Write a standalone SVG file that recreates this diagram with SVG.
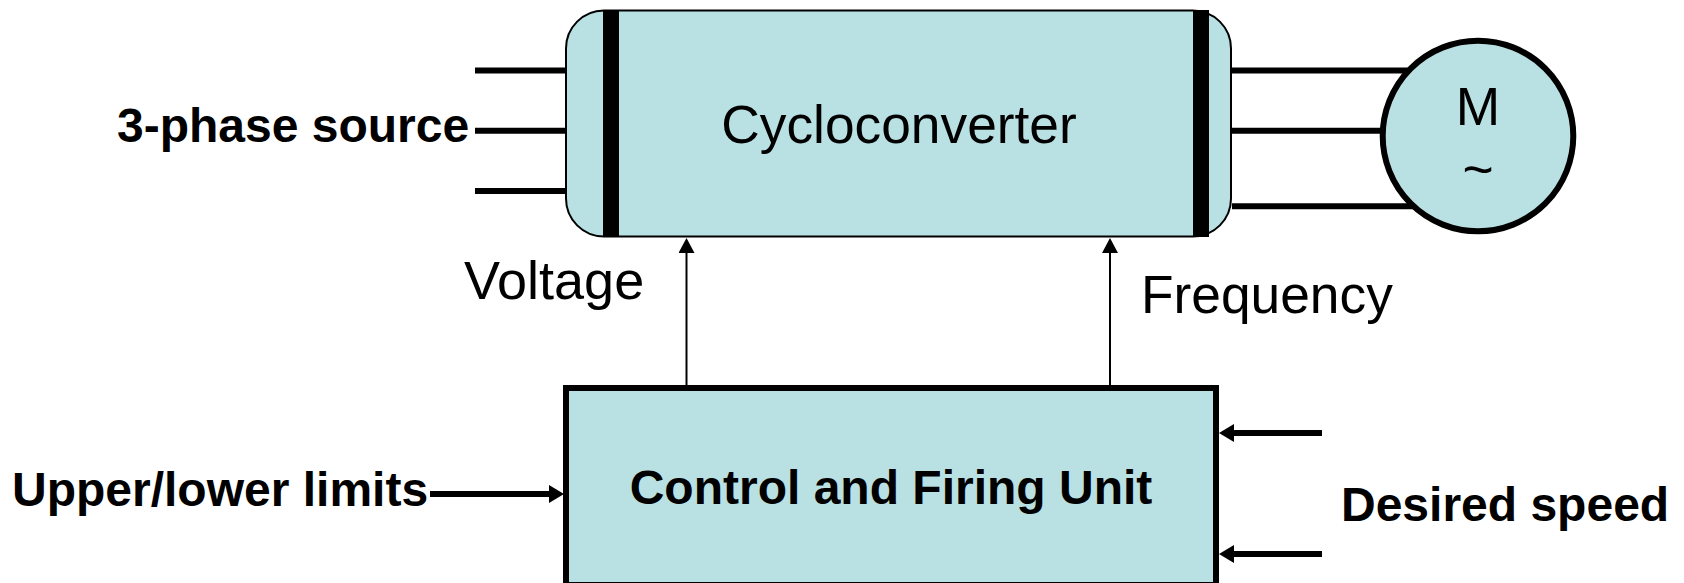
<svg xmlns="http://www.w3.org/2000/svg" width="1684" height="583" viewBox="0 0 1684 583">
<style>
text{font-family:"Liberation Sans",Arial,sans-serif;fill:#000}
.r{font-size:53.300px}
.v{font-size:54px}
.b{font-size:48px;font-weight:700}
.fill{fill:#b9e0e3}
.w{stroke:#000;stroke-width:6;fill:none}
.t{stroke:#000;stroke-width:2;fill:none}
</style>
<defs>
<marker id="hs" markerUnits="userSpaceOnUse" markerWidth="16" markerHeight="16" refX="1" refY="8" orient="auto"><path d="M0 0L15 8L0 16z" fill="#000"/></marker>
<marker id="hb" markerUnits="userSpaceOnUse" markerWidth="16" markerHeight="18" refX="1" refY="9" orient="auto"><path d="M0 0L15 9L0 18z" fill="#000"/></marker>
</defs>
<g id="cycloconverter">
<rect class="fill" x="566" y="10.500" width="665" height="226" rx="38" ry="38" stroke="#000" stroke-width="2"/>
<rect x="603" y="10" width="16" height="227" fill="#000"/>
<rect x="1193" y="10" width="16" height="227" fill="#000"/>
<text class="r" x="899" y="143" text-anchor="middle">Cycloconverter</text>
</g>
<g id="control-unit">
<rect class="fill" x="566" y="388" width="650" height="197" stroke="#000" stroke-width="6"/>
<text class="b" x="891" y="504" text-anchor="middle">Control and Firing Unit</text>
</g>
<g id="connectors">
<path class="w" d="M475 70.500H566M475 130.700H566M475 191H566M1232 70.500H1420M1232 130.700H1390M1232 206.300H1420"/>
<path class="t" marker-end="url(#hs)" d="M686.500 386V252"/>
<path class="t" marker-end="url(#hs)" d="M1110 386V252"/>
<path class="w" marker-end="url(#hb)" d="M430 494H550"/>
<path class="w" marker-end="url(#hb)" d="M1322 433H1233"/>
<path class="w" marker-end="url(#hb)" d="M1322 554H1233"/>
</g>
<g id="motor">
<circle class="fill" cx="1478" cy="136" r="95.300" stroke="#000" stroke-width="6"/>
<text class="r" x="1478" y="125" text-anchor="middle">M</text>
<text class="r" x="1478" y="188" text-anchor="middle">~</text>
</g>
<g id="labels">
<text class="b" x="117" y="142">3-phase source</text>
<text class="v" x="464" y="299">Voltage</text>
<text class="r" x="1141" y="313">Frequency</text>
<text class="b" x="12" y="506">Upper/lower limits</text>
<text class="b" x="1341" y="521">Desired speed</text>
</g>
</svg>
